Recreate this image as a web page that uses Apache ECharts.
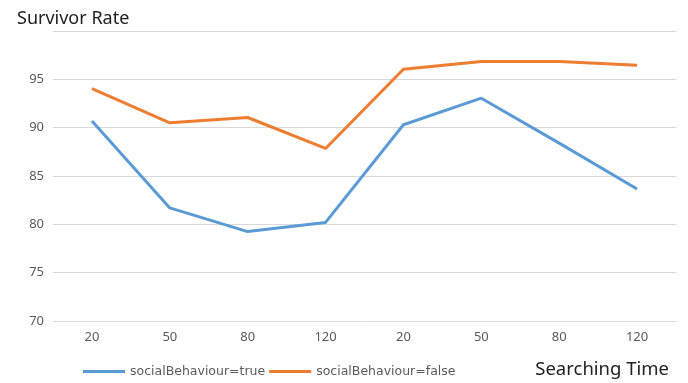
<!DOCTYPE html>
<html><head><meta charset="utf-8">
<script src="https://cdn.jsdelivr.net/npm/echarts@6/dist/echarts.min.js"></script>
<style>html,body{margin:0;padding:0;background:#fff}#c{width:688px;height:383px}</style>
</head><body><div id="c"></div>
<script>
const categories = ['20','50','80','120','20','50','80','120'];
const seriesTrue = [90.7, 81.7, 79.25, 80.2, 90.3, 93.05, 88.4, 83.65];
const seriesFalse = [94.05, 90.5, 91.05, 87.85, 96.05, 96.85, 96.85, 96.45];
const yTicks = [70, 75, 80, 85, 90, 95];
const yTitle = 'Survivor Rate';
const xTitle = 'Searching Time';

const chart = echarts.init(document.getElementById('c'));
const font = 'Noto Sans, sans-serif';
chart.setOption({
  animation: false,
  grid: {left: 53, right: 12, top: 31, bottom: 62},
  title: [
    {text: yTitle, left: 12, top: 5, textStyle: {fontFamily: font, fontSize: 18, fontWeight: 'normal', color: '#222'}},
    {text: xTitle, right: 14, top: 355, textStyle: {fontFamily: font, fontSize: 18.5, fontWeight: 'normal', color: '#222'}}
  ],
  legend: {
    left: 78, top: 360, itemWidth: 42, itemHeight: 3, itemGap: 4,
    icon: 'rect',
    textStyle: {fontFamily: 'DejaVu Sans, sans-serif', fontSize: 12.5, color: '#595959'},
    data: ['socialBehaviour=true', 'socialBehaviour=false']
  },
  xAxis: {
    type: 'category', data: categories, boundaryGap: true,
    axisLine: {show: false}, axisTick: {show: false},
    axisLabel: {fontFamily: font, fontSize: 13, color: '#595959', margin: 10}
  },
  yAxis: {
    type: 'value', min: 70, max: 100, interval: 5,
    axisLine: {show: false}, axisTick: {show: false},
    splitLine: {lineStyle: {color: '#d9d9d9', width: 1}},
    axisLabel: {fontFamily: font, fontSize: 13, color: '#595959', margin: 9,
      formatter: v => yTicks.includes(v) ? String(v) : ''}
  },
  series: [
    {name: 'socialBehaviour=true', type: 'line', data: seriesTrue, symbol: 'none',
     lineStyle: {width: 3, color: '#5B9BD5'}, itemStyle: {color: '#5B9BD5'}},
    {name: 'socialBehaviour=false', type: 'line', data: seriesFalse, symbol: 'none',
     lineStyle: {width: 3, color: '#ED7D31'}, itemStyle: {color: '#ED7D31'}}
  ]
});
</script></body></html>
